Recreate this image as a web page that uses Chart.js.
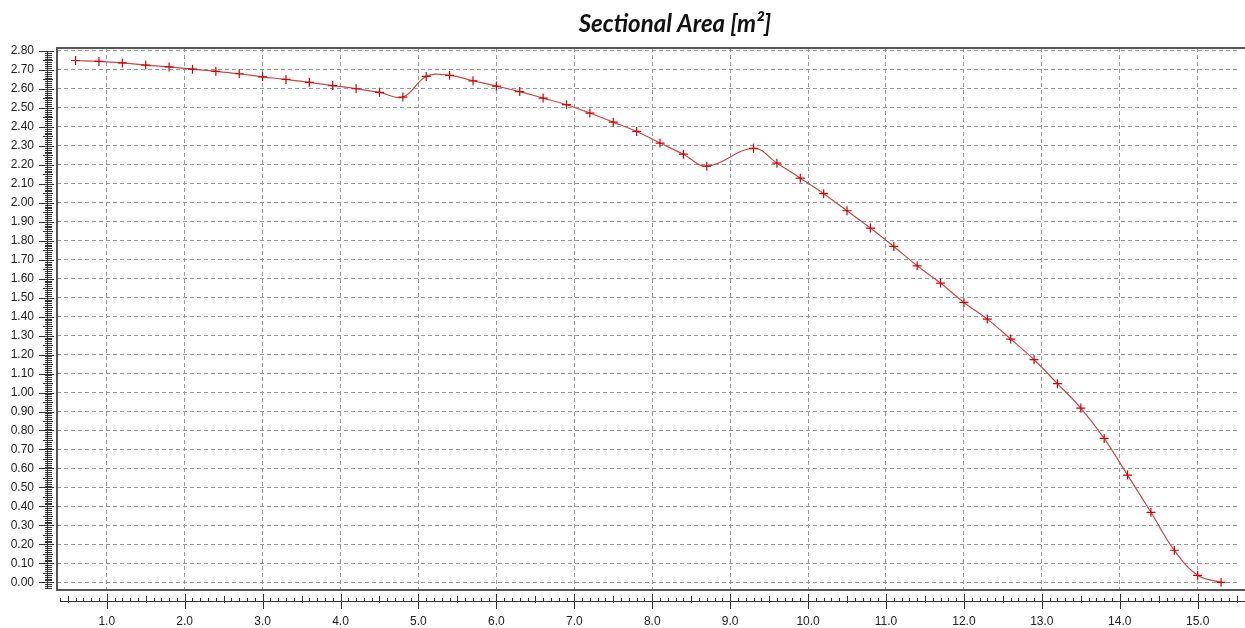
<!DOCTYPE html>
<html>
<head>
<meta charset="utf-8">
<script src="https://cdn.jsdelivr.net/npm/chart.js@4.4.1/dist/chart.umd.min.js"></script>
<style>
  html, body { margin: 0; padding: 0; background: #fff; overflow: hidden; }
  canvas { display: block; }
</style>
</head>
<body>
<canvas id="chart1" width="1245" height="628"></canvas>
<script>
// station positions (x) and sectional area values
const stations = [0.6, 0.9, 1.2, 1.5, 1.8, 2.1, 2.4, 2.7, 3.0, 3.3, 3.6, 3.9, 4.2, 4.5, 4.8,
    5.1, 5.4, 5.7, 6.0, 6.3, 6.6, 6.9, 7.2, 7.5, 7.8, 8.1, 8.4, 8.7, 9.3, 9.6, 9.9,
    10.2, 10.5, 10.8, 11.1, 11.4, 11.7, 12.0, 12.3, 12.6, 12.9, 13.2, 13.5, 13.8,
    14.1, 14.4, 14.7, 15.0, 15.3];
const area = [2.750, 2.745, 2.737, 2.726, 2.716, 2.704, 2.693, 2.680, 2.664, 2.650, 2.635, 2.618, 2.601, 2.582, 2.557,
    2.666, 2.672, 2.643, 2.615, 2.586, 2.552, 2.517, 2.473, 2.425, 2.376, 2.315, 2.256, 2.193, 2.287, 2.209, 2.130,
    2.048, 1.958, 1.867, 1.770, 1.668, 1.577, 1.475, 1.387, 1.282, 1.173, 1.047, 0.918, 0.758,
    0.565, 0.369, 0.169, 0.037, 0.000];

const xTicks = [1, 2, 3, 4, 5, 6, 7, 8, 9, 10, 11, 12, 13, 14, 15];
const yTicks = [];
for (let i = 0; i <= 28; i++) yTicks.push(i / 10);

const titleText = 'Sectional Area [m\u00b2]';
const tickFont = { family: "'Liberation Sans', Arial, sans-serif", size: 12 };

// outer box, offset axes with minor ticks, title
const frame = {
    id: 'frame',
    afterDraw(chart) {
        const { ctx, chartArea: a, scales: { x, y } } = chart;
        const right = chart.width + 2;
        ctx.save();

        ctx.strokeStyle = '#555';
        ctx.lineWidth = 2;
        ctx.beginPath();
        ctx.moveTo(right, a.top);
        ctx.lineTo(a.left, a.top);
        ctx.lineTo(a.left, a.bottom);
        ctx.lineTo(right, a.bottom);
        ctx.stroke();

        // y axis
        ctx.strokeStyle = '#333';
        ctx.lineWidth = 1;
        ctx.beginPath();
        const ax = 47.5;
        ctx.moveTo(ax, y.getPixelForValue(2.8));
        ctx.lineTo(ax, y.getPixelForValue(-0.03));
        for (let i = -3; i <= 280; i++) {
            const py = Math.round(y.getPixelForValue(i / 100)) + 0.5;
            const ext = i % 10 === 0 ? [39, 54] : i % 5 === 0 ? [43, 53] : [45, 52];
            ctx.moveTo(ext[0], py);
            ctx.lineTo(ext[1], py);
        }
        ctx.stroke();

        // x axis
        ctx.beginPath();
        const ay = 601.5;
        ctx.moveTo(x.getPixelForValue(0.4), ay);
        ctx.lineTo(right, ay);
        for (let i = 4; i <= 155; i++) {
            const px = Math.round(x.getPixelForValue(i / 10)) + 0.5;
            const ext = i % 10 === 0 ? [594, 609] : i % 5 === 0 ? [596, 603] : [598, 602];
            ctx.moveTo(px, ext[0]);
            ctx.lineTo(px, ext[1]);
        }
        ctx.stroke();

        ctx.fillStyle = '#111';
        ctx.font = "italic bold 24px Lato, 'Open Sans', sans-serif";
        ctx.textAlign = 'center';
        ctx.textBaseline = 'middle';
        ctx.fillText(titleText, 675, 24);
        ctx.restore();
    }
};

const config = {
    type: 'line',
    data: {
        datasets: [{
            label: 'Sectional Area',
            data: stations.map((s, i) => ({ x: s, y: area[i] })),
            borderColor: '#c84848',
            borderWidth: 1.2,
            tension: 0.4,
            pointStyle: 'cross',
            radius: 4.5,
            pointBorderColor: '#d40000',
            pointBorderWidth: 1.2,
            fill: false
        }]
    },
    options: {
        responsive: false,
        animation: false,
        layout: { padding: { top: 48, right: 0, left: 0, bottom: 0 } },
        plugins: {
            legend: { display: false },
            title: { display: false },
            tooltip: { enabled: false }
        },
        scales: {
            x: {
                type: 'linear',
                min: 0.3614,
                max: 15.534,
                afterFit(scale) { scale.height = 38; },
                afterBuildTicks(scale) { scale.ticks = xTicks.map(v => ({ value: v })); },
                grid: { color: '#999', lineWidth: 1, drawTicks: false },
                border: { display: false, dash: [4, 3] },
                ticks: {
                    autoSkip: false,
                    maxRotation: 0,
                    padding: 24,
                    color: '#222',
                    font: tickFont,
                    callback: v => v.toFixed(1)
                }
            },
            y: {
                type: 'linear',
                min: -0.0406,
                max: 2.8158,
                afterFit(scale) { scale.width = 57; },
                afterBuildTicks(scale) { scale.ticks = yTicks.map(v => ({ value: v })); },
                grid: { color: '#999', lineWidth: 1, drawTicks: false },
                border: { display: false, dash: [4, 3] },
                ticks: {
                    autoSkip: false,
                    padding: 23,
                    color: '#222',
                    font: tickFont,
                    callback: v => v.toFixed(2)
                }
            }
        }
    },
    plugins: [frame]
};

const ctx1 = document.getElementById('chart1').getContext('2d');
const chart1 = new Chart(ctx1, config);
</script>
</body>
</html>
